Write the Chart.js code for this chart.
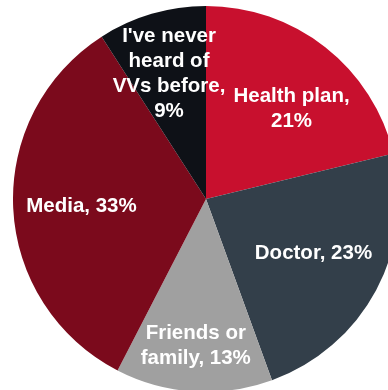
<!DOCTYPE html>
<html>
<head>
<meta charset="utf-8">
<script src="https://cdn.jsdelivr.net/npm/chart.js@4/dist/chart.umd.min.js"></script>
<style>
    html, body { margin: 0; padding: 0; background: #fff; overflow: hidden; width: 388px; height: 390px; }
    #wrap { position: absolute; left: 13px; top: 6px; width: 386px; height: 386px; }
</style>
</head>
<body>
<div id="wrap"><canvas id="pie" width="386" height="386"></canvas></div>
<script>
// Data.
const categories = ['Health plan', 'Doctor', 'Friends or family', 'Media', "I've never heard of VVs before"];
const shares = [21, 23, 13, 33, 9];
// Label text as it wraps inside each slice; the value is appended.
const labelHeads = ['Health plan,\n', 'Doctor, ', 'Friends or\nfamily, ', 'Media, ', "I've never\nheard of\nVVs before,\n"];
const sliceColors = ['#C8102E', '#333F4A', '#A0A0A0', '#7B0A1C', '#0E1117'];

// Where each label sits: fraction of the radius along the slice middle, plus a small nudge.
const labelRadius = [0.65, 0.62, 0.755, 0.646, 0.68];
const labelNudge = [[8, 7], [2, -3], [-1, 0], [0, 0], [0, 0]];

const sliceLabels = {
    id: 'sliceLabels',
    afterDatasetsDraw(chart) {
        const ctx = chart.ctx;
        const arcs = chart.getDatasetMeta(0).data;
        ctx.save();
        ctx.fillStyle = '#fff';
        ctx.font = 'bold 20.5px "Liberation Sans", Arial, sans-serif';
        ctx.textAlign = 'center';
        ctx.textBaseline = 'middle';
        arcs.forEach((arc, i) => {
            const p = arc.getProps(['x', 'y', 'startAngle', 'endAngle', 'outerRadius']);
            const mid = (p.startAngle + p.endAngle) / 2;
            const r = p.outerRadius * labelRadius[i];
            const cx = p.x + Math.cos(mid) * r + labelNudge[i][0];
            const cy = p.y + Math.sin(mid) * r + labelNudge[i][1];
            const lines = (labelHeads[i] + shares[i] + '%').split('\n');
            const lh = 25;
            lines.forEach((t, k) => {
                ctx.fillText(t, cx, cy + (k - (lines.length - 1) / 2) * lh + 1);
            });
        });
        ctx.restore();
    }
};

new Chart(document.getElementById('pie'), {
    type: 'pie',
    data: {
        labels: categories,
        datasets: [{
            data: shares,
            backgroundColor: sliceColors,
            borderWidth: 0
        }]
    },
    options: {
        responsive: false,
        animation: false,
        layout: { padding: 0 },
        plugins: {
            legend: { display: false },
            tooltip: { enabled: false }
        }
    },
    plugins: [sliceLabels]
});
</script>
</body>
</html>
